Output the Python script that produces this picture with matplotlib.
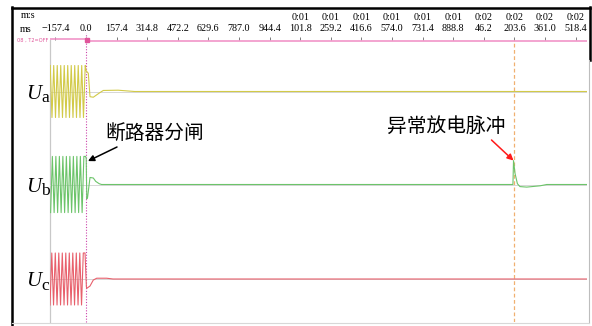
import matplotlib.pyplot as plt
from matplotlib.lines import Line2D

W, H = 592, 326

# time axis in ms
t_lo, t_hi = -185.2, 2577.0
tick_ms = [-157.4, 0.0, 157.4, 314.8, 472.2, 629.6, 787.0, 944.4, 1101.8,
           1259.2, 1416.6, 1574.0, 1731.4, 1888.8, 2046.2, 2203.6, 2361.0, 2518.4]
tick_row1 = ['', '', '', '', '', '', '', '', '0:01', '0:01', '0:01', '0:01',
             '0:01', '0:01', '0:02', '0:02', '0:02', '0:02']
tick_row2 = ['\u2212157.4', '0.0', '157.4', '314.8', '472.2', '629.6', '787.0',
             '944.4', '101.8', '259.2', '416.6', '574.0', '731.4', '888.8',
             '46.2', '203.6', '361.0', '518.4']

# phase voltages (per unit)
ua_t = [-184, -175, -166, -157, -148, -139, -130, -121, -112, -103, -94, -85,
        -76, -67, -58, -49, -40, -31, -22, -13, -4,
        0.5, 11.8, 20.6, 37.5, 72, 89, 165, 250, 2577]
ua_v = [1, -1, 1, -1, 1, -1, 1, -1, 1, -1, 1, -1, 1, -1, 1, -1, 1, -1, 1, -1, 1,
        0.8, 0.7, -0.2, -0.22, -0.04, 0.04, 0.05, 0.0, 0.0]

ub_t = [-182, -173, -164, -155, -146, -137, -128, -119, -110, -101, -92, -83,
        -74, -65, -56, -47, -38, -29, -20, -11, -2,
        1, 4, 8, 20.6, 37.5, 50, 68, 80,
        2196, 2199, 2207, 2219, 2232, 2267, 2336, 2370, 2577]
ub_v = [-1.08, 1.08, -1.08, 1.08, -1.08, 1.08, -1.08, 1.08, -1.08, 1.08, -1.08,
        1.08, -1.08, 1.08, -1.08, 1.08, -1.08, 1.08, -1.08, 1.08, 1.08,
        1.0, -0.55, -0.5, 0.27, 0.25, 0.12, 0.03, 0.0,
        0.0, 0.92, 0.42, 0.03, -0.08, -0.1, -0.05, 0.0, 0.0]

uc_t = [-185, -176, -167, -158, -149, -140, -131, -122, -113, -104, -95, -86,
        -77, -68, -59, -50, -41, -32, -23, -14, -5,
        2, 3.6, 20.6, 37.5, 55, 106, 139, 2577]
uc_v = [-1, 1, -1, 1, -1, 1, -1, 1, -1, 1, -1, 1, -1, 1, -1, 1, -1, 1, -1, 1, 1,
        -0.3, -0.36, -0.27, -0.04, 0.03, 0.03, 0.0, 0.0]

# breaker status channel
status_t = [t_lo, 0.0, 0.0, t_hi]
status_v = [1, 1, 0, 0]

pulse_t, pulse_v = 2199, 0.92
open_t, open_v = 10, 0.9

plt.rcParams['font.family'] = ['Liberation Serif', 'DejaVu Serif']


def box(x0, y0, x1, y1):
    return [x0 / W, 1 - y1 / H, (x1 - x0) / W, (y1 - y0) / H]


def fp(x, y):
    return x / W, 1 - y / H


fig = plt.figure(figsize=(W / 100, H / 100), dpi=100)

# frame with time ticks along the top
ax = fig.add_axes(box(50, 40, 587, 322))
ax.set_xlim(t_lo, t_hi)
ax.set_ylim(0, 1)
ax.set_yticks([])
for s in ['top', 'right', 'bottom']:
    ax.spines[s].set_visible(False)
ax.spines['left'].set_color('#c8c8c8')
ax.spines['left'].set_linewidth(0.9)
ax.xaxis.tick_top()
ax.set_xticks(tick_ms)
ax.set_xticklabels([a + '\n' + b if a else ' \n' + b
                    for a, b in zip(tick_row1, tick_row2)],
                   fontsize=7.3, linespacing=1.25)
ax.tick_params(axis='x', length=2.5, width=0.6, color='#666666', pad=2.5)
ax.axvline(0.0, ymin=0, ymax=1.025, color='#cc44aa', lw=0.8,
           ls=(0, (1, 1.5)), clip_on=False)
ax.axvline(pulse_t, color='#f0b070', lw=0.9, ls=(0, (3, 2)))

fig.text(*fp(21, 16), 'm:s', fontsize=7.3, va='center')
fig.text(*fp(20, 29), 'ms', fontsize=7.3, va='center')

# status track
ax_s = fig.add_axes(box(50, 36.7, 587, 42.7))
ax_s.set_xlim(t_lo, t_hi)
ax_s.set_ylim(-1, 2)
ax_s.axis('off')
ax_s.plot(status_t, status_v, color='#f08cc4', lw=1.1)
ax_s.plot([4], [0.3], marker='s', ms=2.2, color='#e0559a')
fig.text(*fp(17, 40), '08 , T2=OFF', fontsize=3.6, color='#e0559a',
         va='center', family='DejaVu Sans')

# channels
chans = [(ua_t, ua_v, '#d2ca48', 91.5, 'a'),
         (ub_t, ub_v, '#6cc46a', 184.5, 'b'),
         (uc_t, uc_v, '#e8606c', 279.0, 'c')]
axes = []
for t, v, col, yc, sub in chans:
    a = fig.add_axes(box(50, yc - 45, 587, yc + 45))
    a.set_xlim(t_lo, t_hi)
    a.set_ylim(-1.73, 1.73)
    a.axis('off')
    a.axhline(0, color='#d6d6d6', lw=0.7, zorder=1)
    a.plot(t, v, color=col, lw=0.8, zorder=2)
    fig.text(*fp(26, yc + 7.5), 'U', fontsize=15, style='italic',
             va='baseline')
    fig.text(*fp(41.5, yc + 10.5), sub, fontsize=12.5, va='baseline')
    axes.append(a)

ax_b = axes[1]
cjk = ['Noto Sans CJK SC', 'DejaVu Sans']
fig.text(*fp(155, 133), '断路器分闸', fontsize=14.2, family=cjk,
         ha='center', va='center')
fig.text(*fp(446, 126), '异常放电脉冲', fontsize=14.2, family=cjk,
         ha='center', va='center')
ax_b.annotate('', xy=(open_t, open_v), xytext=fp(117, 147),
              textcoords='figure fraction',
              arrowprops=dict(arrowstyle='-|>', color='black', lw=1.1,
                              mutation_scale=9, shrinkA=0, shrinkB=0))
ax_b.annotate('', xy=(pulse_t, pulse_v), xytext=fp(491.5, 140),
              textcoords='figure fraction',
              arrowprops=dict(arrowstyle='-|>', color='#ff1a1a', lw=1.1,
                              mutation_scale=9, shrinkA=0, shrinkB=0))

# outer border
def rule(x0, y0, x1, y1, **kw):
    fig.add_artist(Line2D([x0 / W, x1 / W], [1 - y0 / H, 1 - y1 / H], **kw))


rule(12, 8, 590, 8, color='black', lw=1.8)
rule(12, 7, 12, 326, color='black', lw=1.8)
rule(589.5, 7, 589.5, 60, color='black', lw=1.8)
rule(589, 60, 589, 323, color='#bdbdbd', lw=0.8)
rule(12, 323, 589, 323, color='#d8d8d8', lw=0.8)

fig.savefig('out.png', dpi=100)
